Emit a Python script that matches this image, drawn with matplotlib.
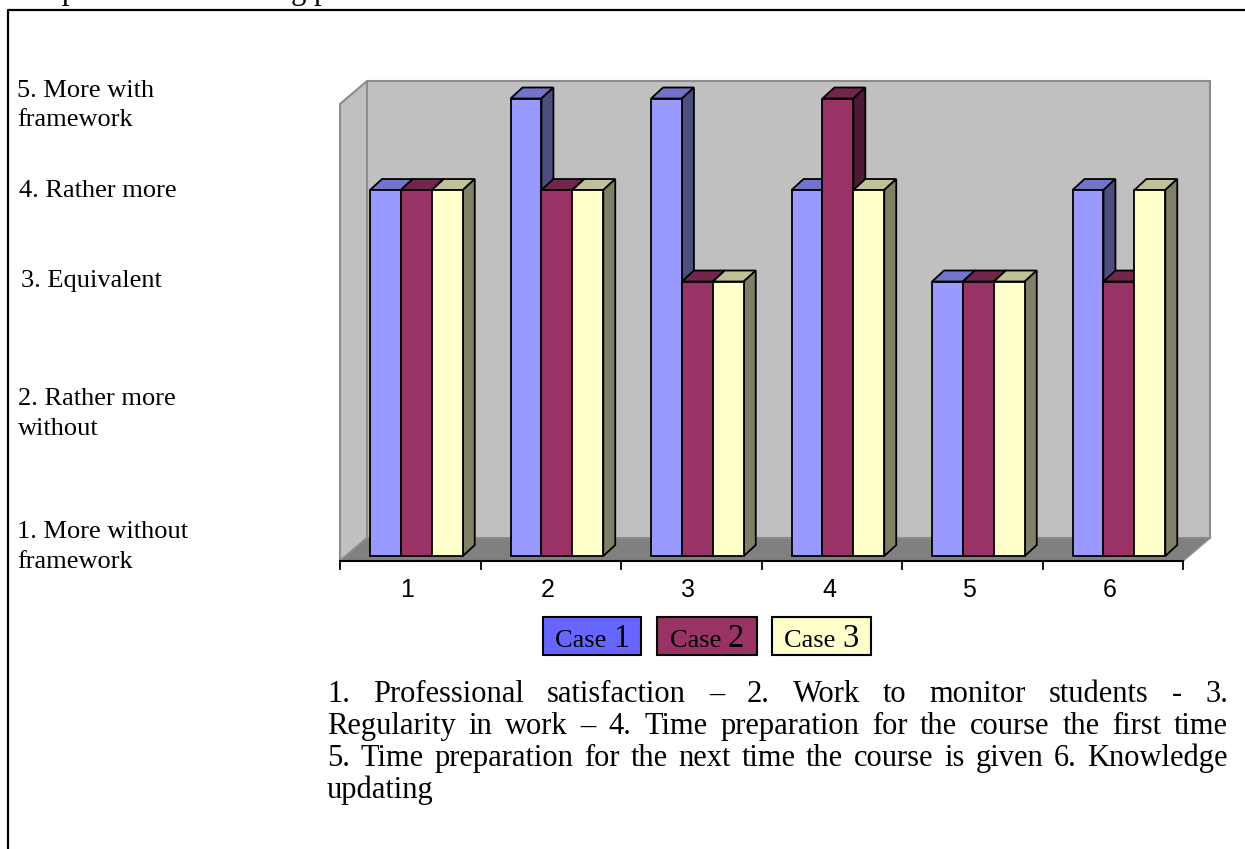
import matplotlib
matplotlib.use("Agg")
import matplotlib.pyplot as plt
from matplotlib.patches import Polygon, Rectangle
from matplotlib.lines import Line2D

# data
categories = ["1", "2", "3", "4", "5", "6"]
series_names = ["Case 1", "Case 2", "Case 3"]
case1 = [4, 5, 5, 4, 3, 4]
case2 = [4, 4, 3, 5, 3, 3]
case3 = [4, 4, 3, 4, 3, 4]
y_labels = [
    ["5. More with", "framework"],
    ["4. Rather more"],
    ["3. Equivalent"],
    ["2. Rather more", "without"],
    ["1. More without", "framework"],
]
caption = [
    "1. Professional satisfaction \u2013 2. Work to monitor students - 3.",
    "Regularity in work \u2013 4. Time preparation for the course the first time",
    "5. Time preparation for the next time the course is given 6. Knowledge",
    "updating",
]

W, H = 1245, 849
SERIF = "Liberation Serif"
SANS = "Liberation Sans"

front = ["#9999FF", "#993366", "#FFFFCC"]
top = ["#7373CC", "#73264D", "#C0C099"]
side = ["#4D4D80", "#4D1A33", "#808066"]
legend_fill = ["#6666FF", "#993366", "#FFFFCC"]

fig = plt.figure(figsize=(W / 100, H / 100), dpi=100)
ax = fig.add_axes([0, 0, 1, 1])
# one x unit = 140.5 px, one y unit = 91.5 px, origin at px (340, 556)
ax.set_xlim(-340 / 140.5, (W - 340) / 140.5)
ax.set_ylim((556 - H) / 91.5, 556 / 91.5)
ax.axis("off")

# walls and floor
fy0, fdx, fdy = -0.055, 0.192, 0.251
n = len(categories)
ax.add_patch(Polygon([(fdx, fy0 + fdy), (n + fdx, fy0 + fdy), (n + fdx, 5.19), (fdx, 5.19)],
                     closed=True, fc="#C0C0C0", ec="#8C8C8C", lw=1.5, zorder=1))
ax.add_patch(Polygon([(0, fy0), (0, 4.94), (fdx, 5.19), (fdx, fy0 + fdy)],
                     closed=True, fc="#C0C0C0", ec="#8C8C8C", lw=1.5, zorder=1))
ax.add_patch(Polygon([(0, fy0), (n, fy0), (n + fdx, fy0 + fdy), (fdx, fy0 + fdy)],
                     closed=True, fc="#808080", ec="#8C8C8C", lw=1.2, zorder=2))

# 3d-looking bars
bw, dx, dy = 0.22, 0.085, 0.12
offsets = [0.214, 0.434, 0.654]
for i in range(n):
    for s, vals in enumerate([case1, case2, case3]):
        x0 = i + offsets[s]
        v = vals[i]
        ax.add_patch(Polygon([(x0, v), (x0 + bw, v), (x0 + bw + dx, v + dy), (x0 + dx, v + dy)],
                             closed=True, fc=top[s], ec="black", lw=1.3, zorder=3))
        ax.add_patch(Polygon([(x0 + bw, 0), (x0 + bw + dx, dy), (x0 + bw + dx, v + dy), (x0 + bw, v)],
                             closed=True, fc=side[s], ec="black", lw=1.3, zorder=3))
        ax.bar(x0, v, width=bw, align="edge", color=front[s], edgecolor="black", lw=1.3, zorder=3)

# category axis
ax.plot([0, n], [fy0, fy0], color="black", lw=1.5, zorder=4)
for k in range(n + 1):
    ax.plot([k, k], [fy0, fy0 - 0.09], color="black", lw=1.3, zorder=4)
for i, c in enumerate(categories):
    ax.text(i + 0.48, (556 - 590) / 91.5, c, ha="center", va="center",
            fontsize=18, family=SANS)

# value labels on the left (free text)
label_pos = [(17, [97, 126]), (19, [197]), (21, [287]), (18, [405, 435]), (17, [538, 568])]
for lines, (x, ys) in zip(y_labels, label_pos):
    for t, yy in zip(lines, ys):
        fig.text(x / W, 1 - yy / H, t, fontsize=19, family=SERIF, va="baseline")

renderer = fig.canvas.get_renderer()

# legend boxes
boxes = [(543, 641), (657, 757), (772, 871)]
for (bx0, bx1), name, fc in zip(boxes, series_names, legend_fill):
    fig.patches.append(Rectangle((bx0 / W, 1 - 655 / H), (bx1 - bx0) / W, 38 / H,
                                 transform=fig.transFigure, fc=fc, ec="black", lw=1.5))
    word, num = name.split(" ")
    t1 = fig.text(0, 1 - 647 / H, word + " ", fontsize=19, family=SERIF, va="baseline")
    t2 = fig.text(0, 1 - 647 / H, num, fontsize=23.5, family=SERIF, va="baseline")
    w1 = t1.get_window_extent(renderer).width
    w2 = t2.get_window_extent(renderer).width
    start = (bx0 + bx1) / 2 - (w1 + w2) / 2
    t1.set_x(start / W)
    t2.set_x((start + w1) / W)

# justified caption under the chart
left, right = 327, 1228
for j, line in enumerate(caption):
    yb = 1 - (702 + 32 * j) / H
    words = line.split(" ")
    texts = [fig.text(0, yb, w, fontsize=22, family=SERIF, va="baseline") for w in words]
    widths = [t.get_window_extent(renderer).width for t in texts]
    if j == len(caption) - 1 or len(words) == 1:
        gap = renderer.points_to_pixels(22) * 0.25
    else:
        gap = (right - left - sum(widths)) / (len(words) - 1)
    x = left
    for t, w in zip(texts, widths):
        t.set_x(x / W)
        x += w + gap

# heading of the page, cut by the top edge as in the source
fig.text(28 / W, 1 + 1.5 / H, "Impact on the teaching profession", fontsize=22,
         family=SERIF, va="baseline")
fig.lines.append(Line2D([8 / W, 8 / W, 1], [0, 1 - 10 / H, 1 - 10 / H],
                        transform=fig.transFigure, color="black", lw=1.6))

fig.savefig("out.png", dpi=100)
